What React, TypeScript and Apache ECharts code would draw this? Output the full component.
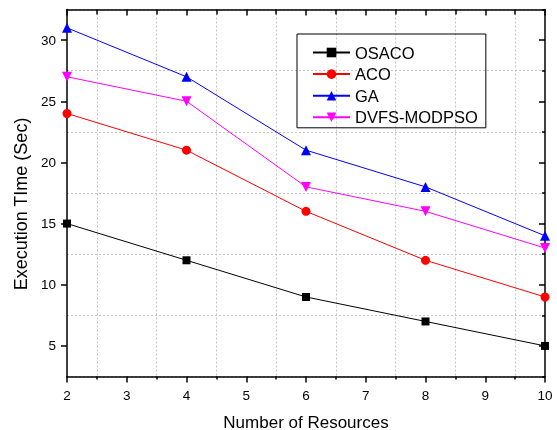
import React, { useEffect, useRef } from "react";
import * as echarts from "echarts";

const resources = [2, 4, 6, 8, 10];
const osaco = [15, 12, 9, 7, 5];
const aco = [24, 21, 16, 12, 9];
const ga = [31, 27, 21, 18, 14];
const dvfs = [27, 25, 18, 16, 13];
const yTickValues = [5, 10, 15, 20, 25, 30];

const FONT = "'Liberation Sans', Arial, sans-serif";

const pairs = (ys: number[]) => resources.map((x, i) => [x, ys[i]]);

export default function App() {
  const ref = useRef<HTMLDivElement>(null);
  useEffect(() => {
    if (!ref.current) return;
    const chart = echarts.init(ref.current, undefined, { renderer: "svg" });
    const grid = { left: 67, right: 12, top: 9.5, bottom: 53.5, containLabel: false, outerBoundsMode: "none" };
    const gridLine = { show: true, lineStyle: { color: "#c4c4c4", width: 1, type: [2, 2] as any } };
    const axisLine = { show: true, onZero: false, lineStyle: { color: "#000", width: 1.5 } };
    const mkSeries = (name: string, data: number[], color: string, symbol: string, size: number, rotate = 0) => ({
      name,
      type: "line",
      data: pairs(data),
      xAxisIndex: 0,
      yAxisIndex: 0,
      symbol,
      symbolSize: size,
      symbolRotate: rotate,
      showSymbol: true,
      lineStyle: { color, width: 1 },
      itemStyle: { color, borderWidth: 0 },
      clip: false,
    });
    chart.setOption({
      animation: false,
      grid,
      legend: {
        orient: "vertical",
        left: 297,
        top: 34,
        padding: [10, 8, 2, 15],
        borderColor: "#000",
        borderWidth: 1,
        itemWidth: 37,
        itemHeight: 12,
        itemGap: 4.6,
        textStyle: { fontSize: 16.5, fontFamily: FONT, color: "#000", lineHeight: 16 },
        data: ["OSACO", "ACO", "GA", "DVFS-MODPSO"],
      },
      xAxis: [
        {
          type: "value",
          position: "bottom",
          min: 2,
          max: 10,
          interval: 1,
          name: "Number of Resources",
          nameLocation: "middle",
          nameGap: 37,
          nameTextStyle: { fontSize: 17, fontFamily: FONT, color: "#000" },
          axisLine,
          axisTick: { show: true, inside: false, length: 6, lineStyle: { color: "#000", width: 1.5 } },
          minorTick: { show: true, splitNumber: 2, length: 3, lineStyle: { color: "#000", width: 1.5 } },
          minorSplitLine: gridLine,
          splitLine: { show: false },
          axisLabel: { fontSize: 13.5, fontFamily: FONT, color: "#000", margin: 12 },
        },
        {
          type: "value",
          position: "top",
          min: 2,
          max: 10,
          interval: 1,
          axisLine,
          axisTick: { show: true, inside: true, length: 6, lineStyle: { color: "#000", width: 1.5 } },
          minorTick: { show: true, splitNumber: 2, length: 5, lineStyle: { color: "#000", width: 1.5 } },
          splitLine: { show: false },
          axisLabel: { show: false },
        },
      ],
      yAxis: [
        {
          type: "value",
          position: "left",
          min: 2.5,
          max: 32.5,
          interval: 2.5,
          name: "Execution TIme (Sec)",
          nameLocation: "middle",
          nameGap: 36,
          nameTextStyle: { fontSize: 18, fontFamily: FONT, color: "#000", padding: [0, 22, 0, 0] },
          axisLine,
          axisTick: { show: true, inside: false, length: 6, customValues: yTickValues, lineStyle: { color: "#000", width: 1.5 } },
          axisLabel: { fontSize: 13.5, fontFamily: FONT, color: "#000", margin: 11, customValues: yTickValues },
          splitLine: { show: false },
        },
        {
          type: "value",
          position: "right",
          min: 2.5,
          max: 32.5,
          interval: 5,
          axisLine,
          axisTick: { show: true, inside: true, length: 3, lineStyle: { color: "#000", width: 1.5 } },
          minorTick: { show: true, splitNumber: 2, length: 6, lineStyle: { color: "#000", width: 1.5 } },
          axisLabel: { show: false },
          splitLine: gridLine,
        },
      ],
      series: [
        mkSeries("OSACO", osaco, "#000000", "rect", 8),
        mkSeries("ACO", aco, "#ff0000", "circle", 9),
        mkSeries("GA", ga, "#0000ff", "triangle", 10),
        mkSeries("DVFS-MODPSO", dvfs, "#ff00ff", "triangle", 10, 180),
      ],
    });
    return () => chart.dispose();
  }, []);
  return <div ref={ref} style={{ position: "fixed", left: 0, top: 0, width: 557, height: 430 }} />;
}
